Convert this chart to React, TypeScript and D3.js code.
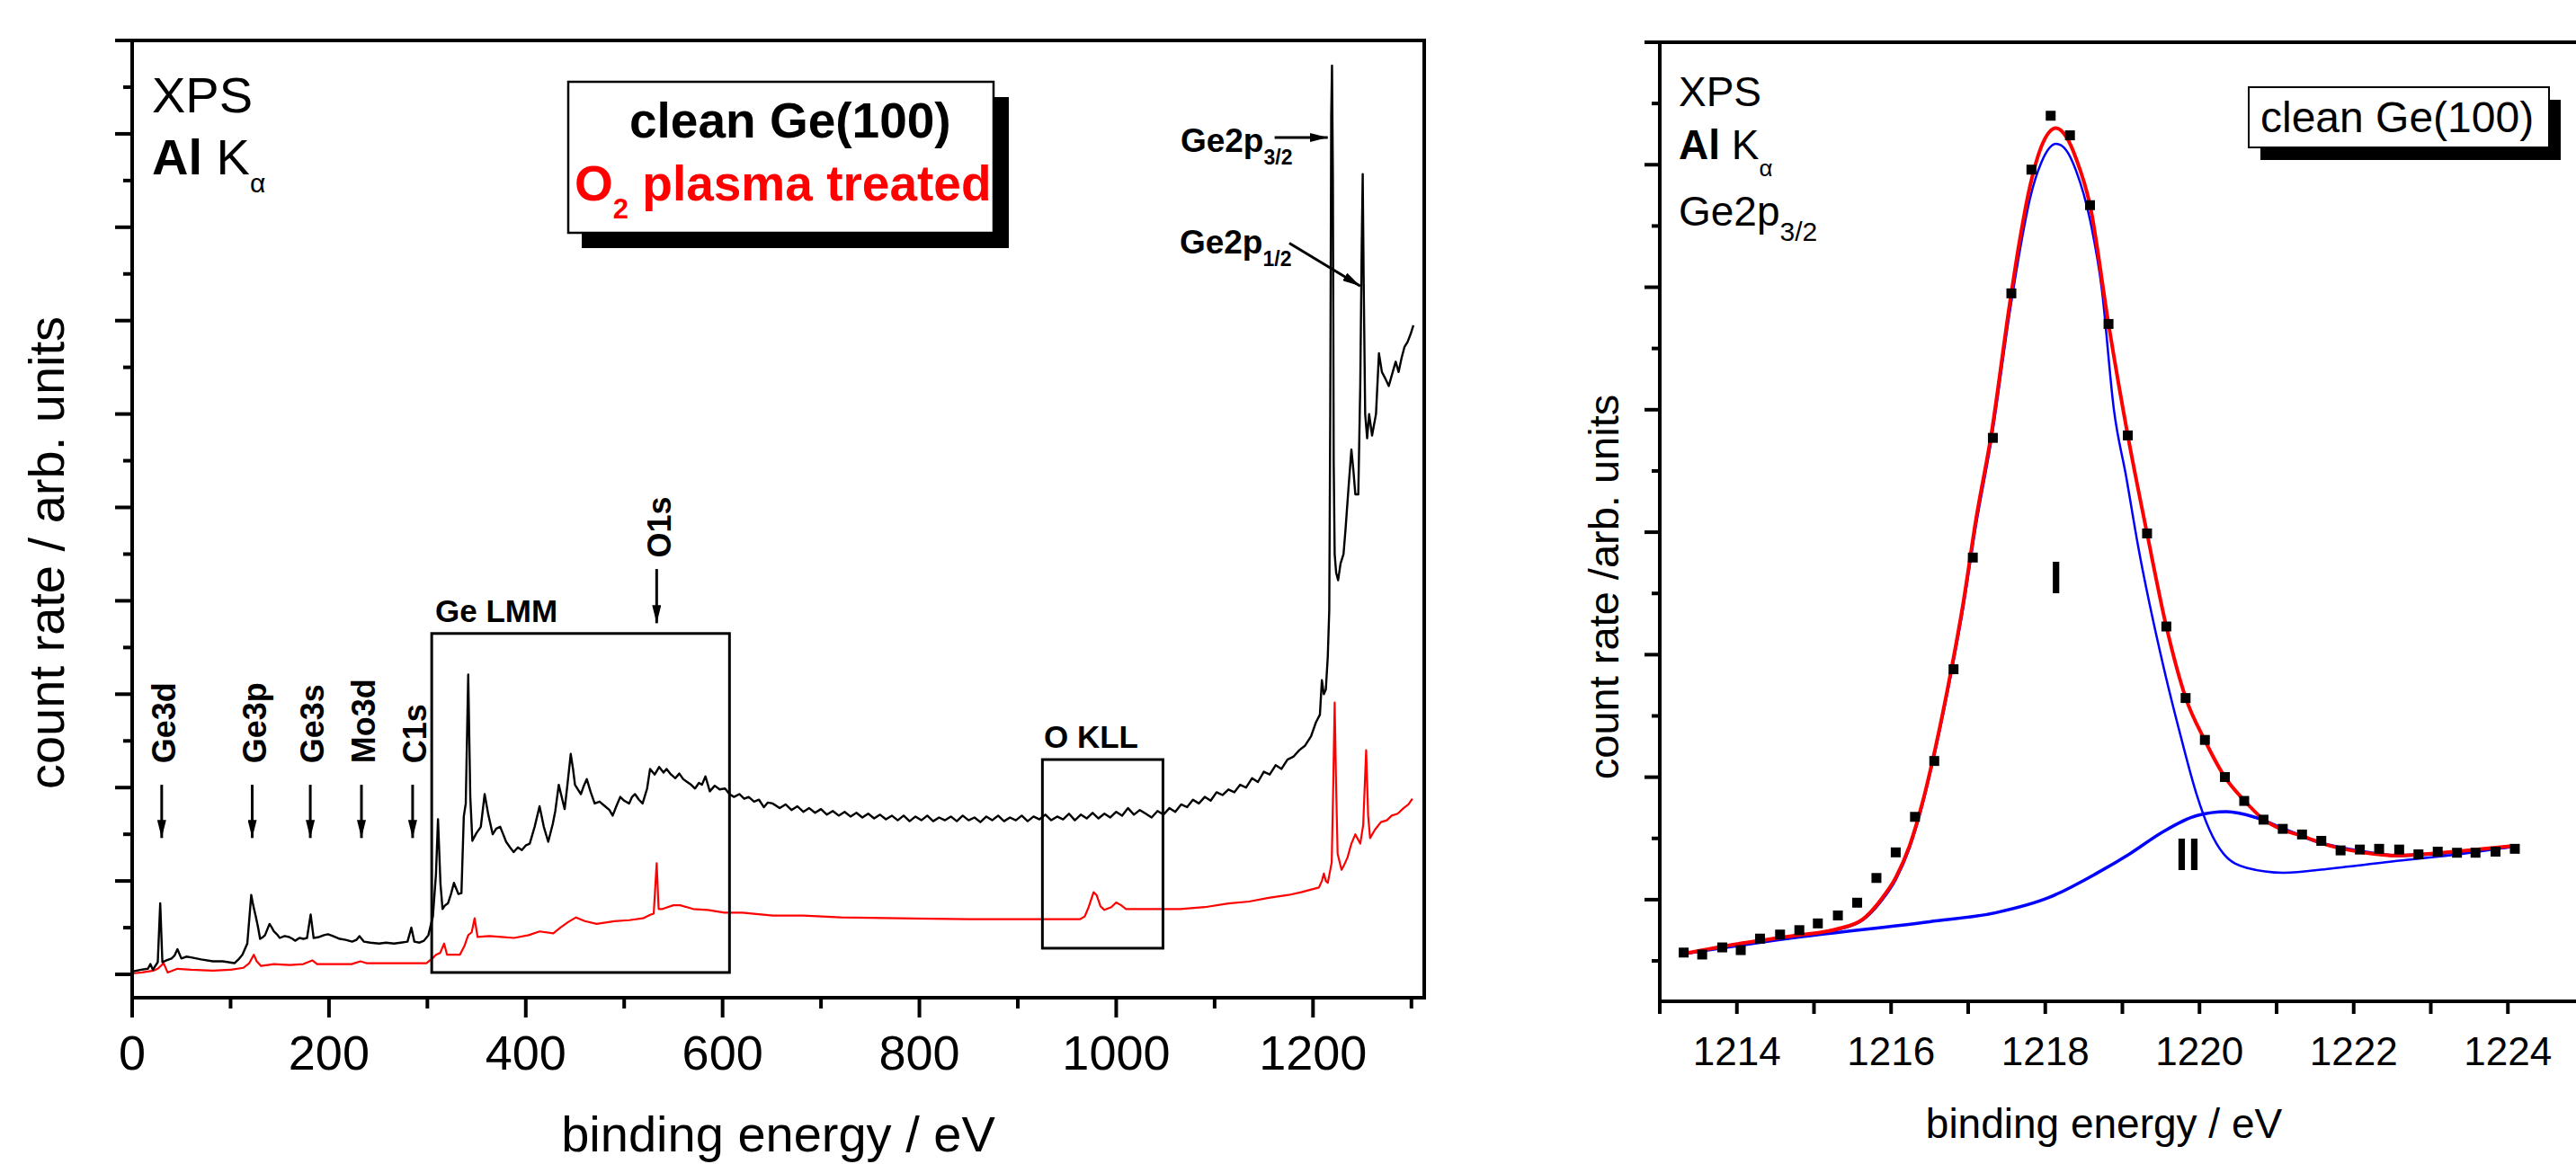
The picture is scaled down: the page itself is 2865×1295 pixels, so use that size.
import { scaleLinear, line, range, curveMonotoneX, curveLinear } from "d3";

const W = 2865;
const H = 1295;
const FONT = "'Liberation Sans', Arial, Helvetica, sans-serif";

// survey spectra, [binding energy / eV, count rate / arb. units]
const cleanGe: [number, number][] = [
  [0, 0.03], [9, 0.05], [16, 0.06], [18.5, 0.11], [21, 0.05], [26, 0.13], [28.5, 0.76], [30.7, 0.13],
  [35, 0.15], [40, 0.17], [43, 0.2], [46, 0.27], [50, 0.17], [55, 0.19], [61, 0.18], [70, 0.16],
  [82, 0.14], [92, 0.14], [104, 0.12], [108, 0.16], [112, 0.21], [117, 0.33], [121, 0.85], [123, 0.74],
  [125.6, 0.62], [128, 0.5], [130, 0.38], [133, 0.4], [135, 0.42], [139.6, 0.54], [142, 0.5], [144, 0.46],
  [147, 0.43], [150, 0.39], [155, 0.41], [159.5, 0.4], [163, 0.38], [165.6, 0.36], [170, 0.39], [174, 0.38],
  [177.7, 0.39], [181.4, 0.64], [184.4, 0.39], [190, 0.4], [195, 0.42], [199, 0.43], [204, 0.41], [211, 0.38],
  [217, 0.37], [223.5, 0.35], [228, 0.37], [231, 0.41], [235.6, 0.35], [242, 0.34], [250.8, 0.33], [258, 0.34],
  [266, 0.33], [273, 0.34], [279.8, 0.35], [283.7, 0.5], [286.8, 0.35], [292, 0.34], [296.5, 0.36], [301, 0.42],
  [305.6, 0.62], [308.7, 1.07], [310.8, 1.66], [313.3, 0.97], [315.4, 0.7], [318, 0.74], [320.9, 0.76], [324, 0.86],
  [327, 0.98], [331.5, 0.86], [334.6, 0.87], [337, 1.69], [339, 1.83], [341.5, 3.21], [343.6, 1.9], [345.7, 1.43],
  [349.7, 1.51], [354.3, 1.58], [358.2, 1.93], [361.9, 1.71], [366.4, 1.5], [370, 1.56], [374, 1.58], [377, 1.5],
  [380, 1.42], [384, 1.36], [387.7, 1.31], [392, 1.36], [396, 1.33], [399.9, 1.38], [404, 1.4], [409, 1.58],
  [414, 1.8], [418.3, 1.58], [422.8, 1.42], [427.4, 1.61], [430, 1.75], [433.5, 2.03], [436, 1.92], [439.5, 1.77],
  [442, 2.0], [445.7, 2.36], [448, 2.2], [450, 2.03], [453, 1.98], [456, 1.93], [459, 2.02], [462, 2.09],
  [466, 1.95], [470, 1.83], [475, 1.85], [480.5, 1.8], [485, 1.76], [488.3, 1.7], [492, 1.8], [496, 1.9],
  [500, 1.86], [505, 1.83], [508, 1.9], [511, 1.93], [515, 1.87], [518.7, 1.83], [523.3, 1.99], [526.3, 2.2],
  [531, 2.14], [535.5, 2.22], [540, 2.16], [543, 2.2], [547.6, 2.14], [552, 2.1], [556, 2.15], [560, 2.09],
  [564, 2.06], [568, 2.03], [572, 1.99], [576, 2.05], [579, 2.03], [582.6, 2.12], [587, 1.96], [592, 2.02],
  [597, 1.98], [602.5, 1.99], [607, 1.93], [611.6, 1.9], [617, 1.93], [622, 1.88], [626.5, 1.9], [632, 1.85],
  [637, 1.87], [642, 1.79], [646, 1.84], [651, 1.83], [658, 1.78], [664, 1.82], [670, 1.76], [676, 1.8],
  [682, 1.74], [688, 1.78], [694, 1.73], [700, 1.77], [706, 1.71], [712, 1.75], [718, 1.7], [724, 1.74],
  [730, 1.69], [736, 1.73], [742, 1.68], [748, 1.72], [754, 1.67], [760, 1.71], [766, 1.66], [772, 1.7],
  [778, 1.65], [784, 1.7], [790, 1.64], [796, 1.69], [802, 1.65], [808, 1.7], [814, 1.64], [820, 1.68],
  [826, 1.65], [832, 1.69], [838, 1.64], [844, 1.7], [850, 1.65], [856, 1.68], [862, 1.63], [868, 1.69],
  [874, 1.65], [880, 1.7], [886, 1.64], [892, 1.68], [898, 1.65], [904, 1.7], [910, 1.64], [916, 1.69],
  [922, 1.66], [928, 1.71], [934, 1.65], [940, 1.69], [946, 1.66], [952, 1.72], [958, 1.65], [964, 1.71],
  [970, 1.67], [976, 1.73], [982, 1.67], [988, 1.72], [994, 1.68], [1000, 1.74], [1006, 1.7], [1012, 1.78],
  [1018, 1.71], [1024, 1.76], [1030, 1.72], [1036, 1.68], [1042, 1.75], [1048, 1.71], [1054, 1.78], [1060, 1.74],
  [1066, 1.82], [1072, 1.79], [1078, 1.87], [1084, 1.83], [1090, 1.9], [1096, 1.86], [1102, 1.95], [1108, 1.92],
  [1114, 1.98], [1120, 1.95], [1126, 2.03], [1132, 2.0], [1138, 2.1], [1144, 2.06], [1150, 2.17], [1156, 2.14],
  [1162, 2.24], [1168, 2.2], [1174, 2.3], [1180, 2.33], [1186, 2.4], [1192, 2.45], [1198, 2.55], [1203, 2.7],
  [1207, 2.78], [1209, 3.15], [1211, 3.0], [1213, 3.05], [1215, 3.4], [1216.5, 3.9], [1217.5, 6.0], [1218.5, 9.2],
  [1219.3, 9.73], [1220.2, 8.5], [1221, 5.5], [1222, 4.5], [1223.5, 4.3], [1225.5, 4.22], [1228, 4.4], [1231, 4.5],
  [1233, 4.76], [1236, 5.2], [1239, 5.62], [1241, 5.4], [1243, 5.14], [1246, 5.14], [1248, 6.3], [1249.5, 7.8],
  [1250.5, 8.57], [1251.5, 7.4], [1253, 6.0], [1255, 5.74], [1257, 6.0], [1260, 5.77], [1264, 6.0], [1267, 6.65],
  [1270, 6.45], [1273, 6.39], [1277, 6.3], [1281, 6.45], [1284, 6.56], [1287, 6.45], [1290, 6.6], [1293, 6.72],
  [1296, 6.77], [1299, 6.85], [1302, 6.95],
];

const plasmaGe: [number, number][] = [
  [0, 0.01], [10, 0.02], [21.5, 0.04], [26, 0.06], [29, 0.09], [32, 0.12], [36, 0.02], [46, 0.06],
  [60, 0.05], [82, 0.04], [100, 0.05], [113, 0.07], [119, 0.12], [123.6, 0.21], [126.6, 0.14], [131, 0.09],
  [144, 0.11], [160, 0.1], [174, 0.11], [183, 0.15], [188, 0.11], [205, 0.11], [223, 0.11], [232, 0.14],
  [238, 0.12], [260, 0.12], [280, 0.12], [299, 0.12], [305, 0.17], [308.7, 0.21], [313, 0.23], [317, 0.33],
  [320, 0.21], [333, 0.21], [337.5, 0.3], [341.5, 0.42], [345, 0.45], [348, 0.6], [351, 0.4], [363, 0.41],
  [375, 0.4], [388, 0.39], [403, 0.42], [414, 0.46], [428, 0.44], [435, 0.5], [443, 0.56], [451, 0.61],
  [460, 0.57], [472, 0.54], [490, 0.57], [505, 0.58], [519, 0.6], [527, 0.64], [530, 0.65], [533, 1.19],
  [535, 0.7], [538.8, 0.7], [550, 0.74], [557, 0.74], [570, 0.7], [585, 0.69], [602, 0.66], [620, 0.66],
  [651, 0.63], [682, 0.63], [720, 0.61], [780, 0.6], [850, 0.59], [902, 0.59], [940, 0.59], [963, 0.59],
  [968, 0.62], [972, 0.72], [977, 0.88], [980, 0.85], [984, 0.73], [988, 0.69], [995, 0.72], [1000, 0.77],
  [1005, 0.74], [1010, 0.7], [1040, 0.7], [1065, 0.7], [1090, 0.72], [1114, 0.76], [1135, 0.78], [1155, 0.82],
  [1175, 0.85], [1188, 0.88], [1206, 0.93], [1209, 1.0], [1211, 1.08], [1213, 1.0], [1215, 0.98], [1219, 1.2],
  [1220.5, 2.0], [1222, 2.91], [1223.5, 2.0], [1225, 1.29], [1229, 1.12], [1232, 1.18], [1235, 1.25], [1239, 1.4],
  [1243, 1.5], [1246, 1.44], [1248, 1.4], [1251, 1.6], [1254, 2.4], [1256, 1.7], [1258, 1.46], [1263, 1.55],
  [1269, 1.63], [1275, 1.65], [1280, 1.7], [1286, 1.72], [1292, 1.78], [1297, 1.82], [1301, 1.88],
];

const surveyTicks = [0, 200, 400, 600, 800, 1000, 1200];
const surveyPeaks = [
  { name: "Ge3d", ev: 30 },
  { name: "Ge3p", ev: 122 },
  { name: "Ge3s", ev: 181 },
  { name: "Mo3d", ev: 233 },
  { name: "C1s", ev: 285 },
];

// Ge2p3/2 detail: measured points and fit curves
const ge2pPoints: [number, number][] = [
  [1213.31, 0.568], [1213.55, 0.552], [1213.81, 0.61], [1214.05, 0.588], [1214.3, 0.682], [1214.56, 0.715],
  [1214.81, 0.751], [1215.05, 0.806], [1215.31, 0.871], [1215.56, 0.975], [1215.81, 1.177], [1216.06, 1.386],
  [1216.31, 1.676], [1216.56, 2.132], [1216.81, 2.881], [1217.06, 3.793], [1217.32, 4.77], [1217.56, 5.95],
  [1217.82, 6.96], [1218.07, 7.4], [1218.32, 7.24], [1218.58, 6.67], [1218.82, 5.7], [1219.07, 4.79],
  [1219.32, 3.99], [1219.57, 3.23], [1219.82, 2.646], [1220.07, 2.304], [1220.33, 2.001], [1220.58, 1.806],
  [1220.83, 1.653], [1221.08, 1.578], [1221.33, 1.532], [1221.58, 1.48], [1221.83, 1.402], [1222.08, 1.409],
  [1222.33, 1.415], [1222.59, 1.409], [1222.84, 1.37], [1223.09, 1.392], [1223.34, 1.383], [1223.58, 1.383],
  [1223.84, 1.392], [1224.09, 1.415],
];

const fitSum: [number, number][] = [
  [1213.25, 0.552], [1213.9, 0.627], [1214.76, 0.708], [1215.28, 0.757], [1215.63, 0.839], [1215.89, 1.018],
  [1216.06, 1.18], [1216.24, 1.44], [1216.41, 1.8], [1216.58, 2.255], [1216.76, 2.81], [1216.93, 3.4],
  [1217.1, 4.1], [1217.3, 4.8], [1217.54, 5.87], [1217.67, 6.39], [1217.8, 6.82], [1217.95, 7.15],
  [1218.14, 7.3], [1218.27, 7.23], [1218.4, 7.05], [1218.58, 6.67], [1218.82, 5.7], [1219.07, 4.79],
  [1219.32, 3.99], [1219.57, 3.23], [1219.82, 2.65], [1220.07, 2.3], [1220.33, 2.0], [1220.58, 1.81],
  [1220.83, 1.655], [1221.08, 1.57], [1221.33, 1.52], [1221.69, 1.44], [1222.13, 1.385], [1222.56, 1.36],
  [1223.0, 1.376], [1223.43, 1.4], [1224.08, 1.44],
];

const fitPeakI: [number, number][] = [
  [1213.25, 0.552], [1213.9, 0.625], [1214.76, 0.705], [1215.28, 0.75], [1215.63, 0.83], [1215.89, 1.0],
  [1216.06, 1.16], [1216.24, 1.42], [1216.41, 1.78], [1216.58, 2.23], [1216.76, 2.78], [1216.93, 3.36],
  [1217.1, 4.05], [1217.3, 4.75], [1217.54, 5.8], [1217.67, 6.3], [1217.8, 6.72], [1217.95, 7.02],
  [1218.14, 7.17], [1218.27, 7.12], [1218.4, 6.95], [1218.58, 6.55], [1218.73, 6.0], [1218.89, 5.0],
  [1219.05, 4.45], [1219.2, 3.9], [1219.53, 2.91], [1219.75, 2.35], [1219.96, 1.865], [1220.13, 1.57],
  [1220.31, 1.376], [1220.61, 1.26], [1221.09, 1.22], [1221.69, 1.253], [1222.56, 1.317], [1223.43, 1.376],
  [1224.08, 1.435],
];

const fitPeakII: [number, number][] = [
  [1213.25, 0.552], [1214.76, 0.69], [1216.5, 0.82], [1217.36, 0.894], [1218.05, 1.018], [1218.66, 1.213],
  [1219.1, 1.376], [1219.53, 1.555], [1219.96, 1.685], [1220.35, 1.718], [1220.74, 1.669], [1221.09, 1.578],
  [1221.52, 1.474], [1222.13, 1.392], [1222.56, 1.36], [1223.43, 1.392], [1224.08, 1.435],
];

const detailTicks = [1214, 1216, 1218, 1220, 1222, 1224];

// left panel scales
const sx = scaleLinear().domain([0, 1313]).range([147, 1584]);
const sy = scaleLinear().domain([-0.25, 10]).range([1110, 45]);
// right panel scales
const dx = scaleLinear().domain([1213, 1225]).range([1846, 2875]);
const dy = scaleLinear().domain([0.17, 8]).range([1114, 47]);

const surveyLine = line<[number, number]>()
  .x((d) => sx(d[0]))
  .y((d) => sy(d[1]))
  .curve(curveLinear);

const fitLine = line<[number, number]>()
  .x((d) => dx(d[0]))
  .y((d) => dy(d[1]))
  .curve(curveMonotoneX);

const Survey = () => {
  const x0 = sx.range()[0];
  const x1 = sx.range()[1];
  const y0 = sy.range()[0];
  const y1 = sy.range()[1];
  const lmm = { x: sx(304.4), y: sy(3.65), w: sx(607) - sx(304.4), h: sy(0.02) - sy(3.65) };
  const okll = { x: sx(925), y: sy(2.3), w: sx(1047.5) - sx(925), h: sy(0.28) - sy(2.3) };
  return (
    <g fontFamily={FONT}>
      {/* data */}
      <path d={surveyLine(plasmaGe) ?? ""} fill="none" stroke="#ff0000" strokeWidth={2.2} strokeLinejoin="round" />
      <path d={surveyLine(cleanGe) ?? ""} fill="none" stroke="#000" strokeWidth={2.4} strokeLinejoin="round" />

      {/* frame */}
      <rect x={x0} y={y1} width={x1 - x0} height={y0 - y1} fill="none" stroke="#000" strokeWidth={4} />

      {/* y ticks */}
      {range(0, 11).map((v) => (
        <line key={"ym" + v} x1={x0 - 19} x2={x0} y1={sy(v)} y2={sy(v)} stroke="#000" strokeWidth={4} />
      ))}
      {range(0.5, 10, 1).map((v) => (
        <line key={"yn" + v} x1={x0 - 10} x2={x0} y1={sy(v)} y2={sy(v)} stroke="#000" strokeWidth={4} />
      ))}
      {/* x ticks */}
      {surveyTicks.map((v) => (
        <g key={"xm" + v}>
          <line x1={sx(v)} x2={sx(v)} y1={y0} y2={y0 + 22} stroke="#000" strokeWidth={4} />
          <text x={sx(v)} y={1190} fontSize={54} textAnchor="middle">{v}</text>
        </g>
      ))}
      {range(100, 1400, 200).map((v) => (
        <line key={"xn" + v} x1={sx(v)} x2={sx(v)} y1={y0} y2={y0 + 12} stroke="#000" strokeWidth={4} />
      ))}

      {/* axis titles */}
      <text x={(x0 + x1) / 2} y={1281} fontSize={56} textAnchor="middle">binding energy / eV</text>
      <text transform={`translate(71,615) rotate(-90)`} fontSize={56} textAnchor="middle">count rate / arb. units</text>

      {/* source label */}
      <text x={169} y={125} fontSize={56}>XPS</text>
      <text x={169} y={194} fontSize={56}>
        <tspan fontWeight="bold">Al</tspan> K<tspan dy={20} fontSize={30}>α</tspan>
      </text>

      {/* legend */}
      <rect x={647} y={108} width={475} height={168} fill="#000" />
      <rect x={632} y={91} width={473} height={168} fill="#fff" stroke="#000" strokeWidth={2.5} />
      <text x={700} y={153} fontSize={55} fontWeight="bold">clean Ge(100)</text>
      <text x={639} y={223} fontSize={55} fontWeight="bold" fill="#ff0000">
        O<tspan dy={20} fontSize={31}>2</tspan><tspan dy={-20}> plasma treated</tspan>
      </text>

      {/* peak markers */}
      {surveyPeaks.map((p) => (
        <g key={p.name}>
          <line x1={sx(p.ev)} x2={sx(p.ev)} y1={sy(2.03)} y2={sy(1.46)} stroke="#000" strokeWidth={3} markerEnd="url(#ah)" />
          <text transform={`translate(${sx(p.ev) + 15},${sy(2.26)}) rotate(-90)`} fontSize={36} fontWeight="bold">{p.name}</text>
        </g>
      ))}
      <line x1={sx(533)} x2={sx(533)} y1={sy(4.34)} y2={sy(3.76)} stroke="#000" strokeWidth={3} markerEnd="url(#ah)" />
      <text transform={`translate(${sx(533) + 16},${sy(4.46)}) rotate(-90)`} fontSize={36} fontWeight="bold">O1s</text>

      {/* Auger regions */}
      <rect x={lmm.x} y={lmm.y} width={lmm.w} height={lmm.h} fill="none" stroke="#000" strokeWidth={3} />
      <text x={sx(308)} y={sy(3.77)} fontSize={35} fontWeight="bold">Ge LMM</text>
      <rect x={okll.x} y={okll.y} width={okll.w} height={okll.h} fill="none" stroke="#000" strokeWidth={3} />
      <text x={sx(926.5)} y={sy(2.43)} fontSize={35} fontWeight="bold">O KLL</text>

      {/* Ge2p labels */}
      <text x={sx(1065.3)} y={sy(8.81)} fontSize={37} fontWeight="bold">
        Ge2p<tspan dy={14} fontSize={23}>3/2</tspan>
      </text>
      <line x1={sx(1161)} x2={sx(1215)} y1={sy(8.96)} y2={sy(8.96)} stroke="#000" strokeWidth={3} markerEnd="url(#ah)" />
      <text x={sx(1064.4)} y={sy(7.72)} fontSize={37} fontWeight="bold">
        Ge2p<tspan dy={14} fontSize={23}>1/2</tspan>
      </text>
      <line x1={sx(1175.9)} x2={sx(1248)} y1={sy(7.83)} y2={sy(7.37)} stroke="#000" strokeWidth={3} markerEnd="url(#ah)" />
    </g>
  );
};

const Detail = () => {
  const x0 = dx.range()[0];
  const x1 = dx.range()[1];
  const y0 = dy.range()[0];
  const y1 = dy.range()[1];
  return (
    <g fontFamily={FONT}>
      <path d={fitLine(fitPeakII) ?? ""} fill="none" stroke="#0000ff" strokeWidth={3.5} />
      <path d={fitLine(fitPeakI) ?? ""} fill="none" stroke="#0000ff" strokeWidth={2.5} />
      <path d={fitLine(fitSum) ?? ""} fill="none" stroke="#ff0000" strokeWidth={4} />
      {ge2pPoints.map((d, i) => (
        <rect key={i} x={dx(d[0]) - 5.5} y={dy(d[1]) - 5.5} width={11} height={11} fill="#000" />
      ))}

      {/* frame */}
      <line x1={x0} x2={x0} y1={y1} y2={y0} stroke="#000" strokeWidth={4} />
      <line x1={x0} x2={x1} y1={y0} y2={y0} stroke="#000" strokeWidth={4} />
      <line x1={x0} x2={x1} y1={y1} y2={y1} stroke="#000" strokeWidth={4} />
      <line x1={x1} x2={x1} y1={y1} y2={y0} stroke="#000" strokeWidth={4} />

      {range(1, 9).map((v) => (
        <line key={"m" + v} x1={x0 - 17} x2={x0} y1={dy(v)} y2={dy(v)} stroke="#000" strokeWidth={4} />
      ))}
      {range(0.5, 8, 1).map((v) => (
        <line key={"n" + v} x1={x0 - 9} x2={x0} y1={dy(v)} y2={dy(v)} stroke="#000" strokeWidth={4} />
      ))}
      {range(1213, 1225).map((v) => (
        <line key={"t" + v} x1={dx(v)} x2={dx(v)} y1={y0} y2={y0 + 14} stroke="#000" strokeWidth={4} />
      ))}
      {detailTicks.map((v) => (
        <text key={"l" + v} x={dx(v)} y={1185} fontSize={44} textAnchor="middle">{v}</text>
      ))}

      <text x={2340} y={1266} fontSize={46} textAnchor="middle">binding energy / eV</text>
      <text transform={`translate(1800,653) rotate(-90)`} fontSize={47} textAnchor="middle">count rate /arb. units</text>

      <text x={1867} y={118} fontSize={46}>XPS</text>
      <text x={1867} y={177} fontSize={46}>
        <tspan fontWeight="bold">Al</tspan> K<tspan dy={19} fontSize={26}>α</tspan>
      </text>
      <text x={1867} y={251} fontSize={46}>
        Ge2p<tspan dy={17} fontSize={30}>3/2</tspan>
      </text>

      <rect x={2514} y={111} width={334} height={67} fill="#000" />
      <rect x={2501} y={97} width={334} height={67} fill="#fff" stroke="#000" strokeWidth={2} />
      <text x={2514} y={147} fontSize={48}>clean Ge(100)</text>

      <text x={dx(1218.14)} y={dy(3.5)} fontSize={50} fontWeight="bold" textAnchor="middle">I</text>
      <text x={dx(1219.85)} y={dy(1.24)} fontSize={50} fontWeight="bold" textAnchor="middle">II</text>
    </g>
  );
};

export default function App() {
  return (
    <svg
      width={W}
      height={H}
      viewBox={`0 0 ${W} ${H}`}
      style={{ position: "absolute", left: 0, top: 0, background: "#fff" }}
    >
      <defs>
        <marker id="ah" viewBox="0 0 20 10" refX={20} refY={5} markerWidth={20} markerHeight={10} orient="auto" markerUnits="userSpaceOnUse">
          <path d="M0,0L20,5L0,10z" fill="#000" />
        </marker>
      </defs>
      <rect width={W} height={H} fill="#fff" />
      <Survey />
      <Detail />
    </svg>
  );
}
